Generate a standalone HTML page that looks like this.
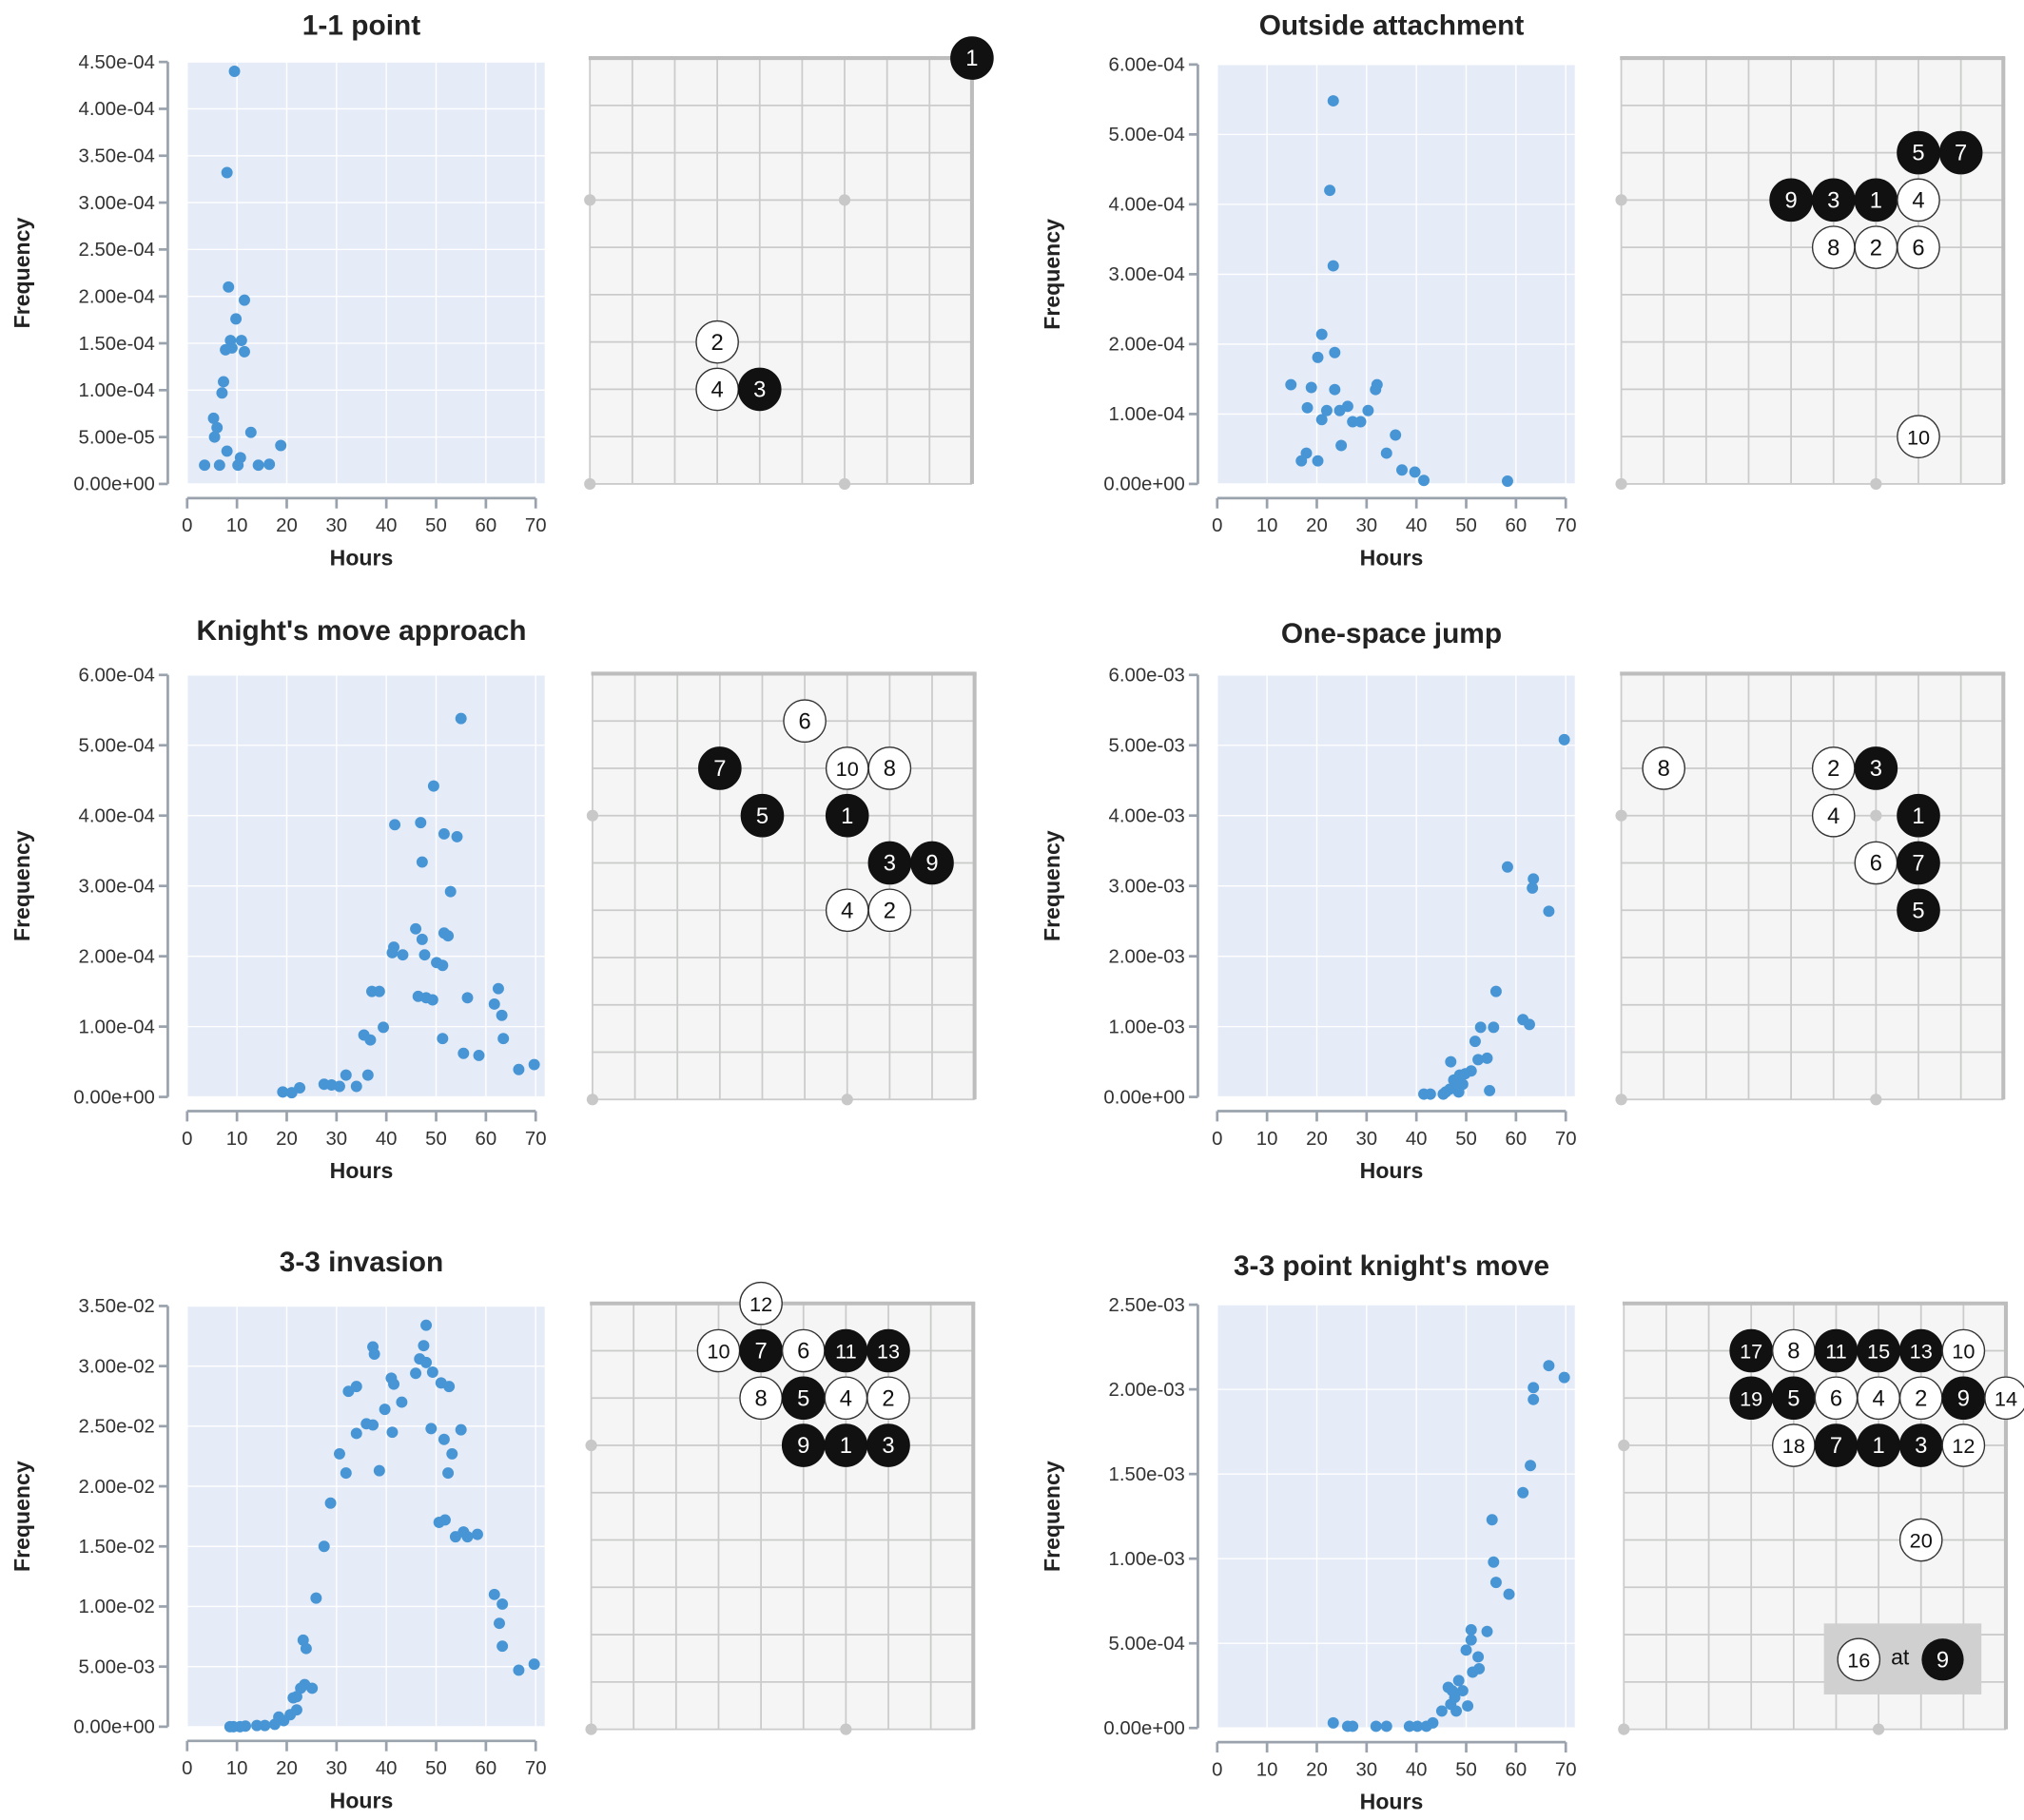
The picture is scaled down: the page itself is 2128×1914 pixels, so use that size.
<!DOCTYPE html>
<html><head><meta charset="utf-8"><style>
html,body{margin:0;padding:0;background:#fff;}
svg{display:block;font-family:"Liberation Sans",Arial,sans-serif;}
</style></head><body>
<svg id="root" width="2128" height="1914" viewBox="0 0 1568 1410.3" preserveAspectRatio="none" xmlns="http://www.w3.org/2000/svg"></svg>
<script>
const NS="http://www.w3.org/2000/svg";
const root=document.getElementById('root');

// ---- chart data ----
const hoursTicks=[0,10,20,30,40,50,60,70];
const oneOneHours=[9.5,8,8.3,11.5,9.8,8.7,10.9,7.7,9,11.5,7.3,7,5.3,6,5.5,12.8,8,18.8,10.7,3.5,6.5,10.2,14.3,16.5];
const oneOneFreq=[4.4e-4,3.32e-4,2.1e-4,1.96e-4,1.76e-4,1.53e-4,1.53e-4,1.43e-4,1.45e-4,1.41e-4,1.09e-4,0.97e-4,0.7e-4,0.6e-4,0.5e-4,0.55e-4,0.35e-4,0.41e-4,0.28e-4,0.2e-4,0.2e-4,0.2e-4,0.2e-4,0.21e-4];
const oneOneTicks=[0,5e-5,1e-4,1.5e-4,2e-4,2.5e-4,3e-4,3.5e-4,4e-4,4.5e-4];

const outsideHours=[23.3,22.6,23.3,21,23.6,20.2,14.8,18.9,23.6,32.1,31.8,18.1,22,24.6,26.2,30.3,21,27.2,28.8,35.8,24.9,34,17.9,16.9,20.2,37.1,39.7,41.5,58.3];
const outsideFreq=[5.48e-4,4.2e-4,3.12e-4,2.14e-4,1.88e-4,1.81e-4,1.42e-4,1.38e-4,1.35e-4,1.42e-4,1.35e-4,1.09e-4,1.05e-4,1.05e-4,1.11e-4,1.05e-4,0.92e-4,0.89e-4,0.89e-4,0.7e-4,0.55e-4,0.44e-4,0.44e-4,0.33e-4,0.33e-4,0.2e-4,0.17e-4,0.05e-4,0.04e-4];
const outsideTicks=[0,1e-4,2e-4,3e-4,4e-4,5e-4,6e-4];

const knightHours=[55,49.5,41.7,46.9,51.6,54.2,47.2,52.9,45.9,51.6,52.4,47.2,41.5,41.2,43.3,47.7,50.1,51.3,37.1,38.6,46.4,48,49.3,56.3,62.5,61.7,63.2,39.4,35.5,36.8,51.3,63.5,36.3,31.9,55.5,58.6,69.7,66.6,27.5,29,30.6,34,19.2,21,22.6];
const knightFreq=[5.38e-4,4.42e-4,3.87e-4,3.9e-4,3.74e-4,3.7e-4,3.34e-4,2.92e-4,2.39e-4,2.33e-4,2.29e-4,2.24e-4,2.13e-4,2.05e-4,2.02e-4,2.02e-4,1.91e-4,1.87e-4,1.5e-4,1.5e-4,1.43e-4,1.41e-4,1.38e-4,1.41e-4,1.54e-4,1.32e-4,1.16e-4,0.99e-4,0.88e-4,0.81e-4,0.83e-4,0.83e-4,0.31e-4,0.31e-4,0.62e-4,0.59e-4,0.46e-4,0.39e-4,0.18e-4,0.17e-4,0.15e-4,0.15e-4,0.07e-4,0.06e-4,0.13e-4];
const knightTicks=[0,1e-4,2e-4,3e-4,4e-4,5e-4,6e-4];

const jumpHours=[69.7,58.3,63.5,63.3,66.6,56,61.4,62.7,52.9,55.5,51.8,52.4,54.2,46.9,51,49.8,48.7,47.5,49.3,48.2,46.7,45.9,54.7,48.5,41.5,42.8,45.4];
const jumpFreq=[5.08e-3,3.27e-3,3.1e-3,2.97e-3,2.64e-3,1.5e-3,1.1e-3,1.03e-3,0.99e-3,0.99e-3,0.79e-3,0.53e-3,0.55e-3,0.5e-3,0.37e-3,0.33e-3,0.31e-3,0.24e-3,0.18e-3,0.15e-3,0.11e-3,0.07e-3,0.09e-3,0.07e-3,0.04e-3,0.04e-3,0.04e-3];
const jumpTicks=[0,1e-3,2e-3,3e-3,4e-3,5e-3,6e-3];

const invasionHours=[48,37.3,47.5,37.6,46.7,48,41,45.9,49.3,34,32.4,41.5,51,52.6,43.1,39.7,36,37.3,34,41.2,49,55,51.6,30.6,53.2,31.9,38.6,52.4,28.8,50.6,51.8,55.5,53.9,56.3,58.3,27.5,25.9,61.7,63.3,62.7,63.3,69.7,66.6,23.3,23.9,23.6,25.1,22.8,22,21.3,22,20.7,18.4,19.4,17.6,15.6,14,11.7,9.3,8.6,10.6];
const invasionFreq=[3.34e-2,3.16e-2,3.17e-2,3.1e-2,3.06e-2,3.03e-2,2.9e-2,2.94e-2,2.95e-2,2.83e-2,2.79e-2,2.85e-2,2.86e-2,2.83e-2,2.7e-2,2.64e-2,2.52e-2,2.51e-2,2.44e-2,2.45e-2,2.48e-2,2.47e-2,2.39e-2,2.27e-2,2.27e-2,2.11e-2,2.13e-2,2.11e-2,1.86e-2,1.7e-2,1.72e-2,1.62e-2,1.58e-2,1.58e-2,1.6e-2,1.5e-2,1.07e-2,1.1e-2,1.02e-2,0.86e-2,0.67e-2,0.52e-2,0.47e-2,0.72e-2,0.65e-2,0.35e-2,0.32e-2,0.32e-2,0.25e-2,0.24e-2,0.14e-2,0.1e-2,0.08e-2,0.05e-2,0.02e-2,0.01e-2,0.01e-2,0.005e-2,0,0,0];
const invasionTicks=[0,5e-3,1e-2,1.5e-2,2e-2,2.5e-2,3e-2,3.5e-2];

const kn33Hours=[66.6,69.7,63.5,63.5,62.9,61.4,55.2,55.5,56,58.6,51,54.2,51,50,52.4,52.6,51.3,48.5,46.4,47.2,49.3,47.7,46.9,50.3,45.1,48,23.3,26.2,27.2,31.9,34,38.6,40.2,42,43.3];
const kn33Freq=[2.14e-3,2.07e-3,2.01e-3,1.94e-3,1.55e-3,1.39e-3,1.23e-3,0.98e-3,0.86e-3,0.79e-3,0.58e-3,0.57e-3,0.52e-3,0.46e-3,0.42e-3,0.35e-3,0.33e-3,0.28e-3,0.24e-3,0.22e-3,0.22e-3,0.18e-3,0.14e-3,0.13e-3,0.1e-3,0.1e-3,0.03e-3,0.01e-3,0.01e-3,0.01e-3,0.01e-3,0.01e-3,0.01e-3,0.01e-3,0.03e-3];
const kn33Ticks=[0,5e-4,1e-3,1.5e-3,2e-3,2.5e-3];

function el(tag,attrs,parent,text){const e=document.createElementNS(NS,tag);for(const k in attrs)e.setAttribute(k,attrs[k]);if(text!==undefined)e.textContent=text;(parent||root).appendChild(e);return e;}
function fmt(v){if(v===0)return '0.00e+00';let e=Math.floor(Math.log10(Math.abs(v))+1e-9);let m=v/Math.pow(10,e);if(m>=9.995){m/=10;e+=1;}const s=e<0?'-':'+';const a=Math.abs(e);return m.toFixed(2)+'e'+s+(a<10?'0'+a:a);}

function chart(name,title,left,top,bottom,xs,ys,ticks,titleY){
  const g=el('g',{});
  
  
  const x0=left,x1=left+270;
  const ymax=ticks[ticks.length-1];
  const sx=v=>x0+v/70*270;
  const sy=v=>bottom-v/ymax*(bottom-top);
  const bg=el('rect',{x:x0,y:top,width:277,height:bottom-top,fill:'#e6ecf7'},g);
  
  
  hoursTicks.forEach(t=>el('line',{x1:sx(t),x2:sx(t),y1:top,y2:bottom,stroke:'#fff','stroke-width':1},g));
  ticks.forEach(t=>el('line',{x1:x0,x2:x0+277,y1:sy(t),y2:sy(t),stroke:'#fff','stroke-width':1},g));
  const ya=el('line',{x1:x0-15,x2:x0-15,y1:top,y2:bottom,stroke:'#9aa3ad','stroke-width':2},g);
  
  
  ticks.forEach(t=>{
    el('line',{x1:x0-22,x2:x0-15,y1:sy(t),y2:sy(t),stroke:'#9aa3ad','stroke-width':2},g);
    const tl=el('text',{x:x0-25,y:sy(t)+5,'text-anchor':'end','font-size':15,fill:'#333'},g,fmt(t));
    
    
  });
  const xa=el('line',{x1:x0,x2:x1,y1:bottom+11,y2:bottom+11,stroke:'#9aa3ad','stroke-width':2},g);
  
  
  hoursTicks.forEach(t=>{
    el('line',{x1:sx(t),x2:sx(t),y1:bottom+11,y2:bottom+19,stroke:'#9aa3ad','stroke-width':2},g);
    const tl=el('text',{x:sx(t),y:bottom+37,'text-anchor':'middle','font-size':15,fill:'#333'},g,String(t));
    
    
  });
  const xt=el('text',{x:(x0+x1)/2,y:bottom+63,'text-anchor':'middle','font-size':17,'font-weight':'bold',fill:'#222'},g,'Hours');
  
  
  const cy=(top+bottom)/2;
  const yt=el('text',{x:0,y:0,transform:`translate(${x0-122},${cy}) rotate(-90)`,'text-anchor':'middle','font-size':17,'font-weight':'bold',fill:'#222'},g,'Frequency');
  
  
  const tt=el('text',{x:(x0+x1)/2,y:titleY+8,'text-anchor':'middle','font-size':22,'font-weight':'bold',fill:'#222'},g,title);
  
  
  for(let i=0;i<xs.length;i++){
    const c=el('circle',{cx:sx(xs[i]),cy:sy(ys[i]),r:4.4,fill:'#4795d5'},g);
    
    
  }
}

function board(name,bx,by,stones){
  const g=el('g',{});
  
  
  const W=296,H=330,cw=W/9,ch=H/9;
  el('rect',{x:bx,y:by,width:W,height:H,fill:'#f4f5f4'},g);
  for(let i=0;i<=9;i++){
    el('line',{x1:bx+i*cw,x2:bx+i*cw,y1:by,y2:by+H,stroke:'#cbcbcb','stroke-width':1.3},g);
    el('line',{x1:bx,x2:bx+W,y1:by+i*ch,y2:by+i*ch,stroke:'#cbcbcb','stroke-width':1.3},g);
  }
  el('line',{x1:bx-1,x2:bx+W+1.5,y1:by,y2:by,stroke:'#bdbdbd','stroke-width':3},g);
  el('line',{x1:bx+W,x2:bx+W,y1:by,y2:by+H,stroke:'#bdbdbd','stroke-width':3},g);
  [[0,3],[6,3],[0,9],[6,9]].forEach(p=>el('circle',{cx:bx+p[0]*cw,cy:by+p[1]*ch,r:4.5,fill:'#c8c8c8'},g));
  stones.forEach(s=>{
    const cx=bx+s[0]*cw,cy=by+s[1]*ch,black=s[2]==='b';
    const st=el('g',{},g);
    
    
    el('circle',{cx,cy,r:16.3,fill:black?'#111':'#fff',stroke:black?'#111':'#333','stroke-width':1},st);
    el('text',{x:cx,y:cy+6,'text-anchor':'middle','font-size':s[3].length>1?16:17.5,fill:black?'#fff':'#111'},st,s[3]);
  });
  return g;
}

chart('one-one-point','1-1 point',145,48,375,oneOneHours,oneOneFreq,oneOneTicks,19);
chart('outside-attachment','Outside attachment',943,50,375,outsideHours,outsideFreq,outsideTicks,19);
chart('knights-move-approach',"Knight's move approach",145,523,850,knightHours,knightFreq,knightTicks,488);
chart('one-space-jump','One-space jump',943,523,850,jumpHours,jumpFreq,jumpTicks,490);
chart('three-three-invasion','3-3 invasion',145,1012,1338,invasionHours,invasionFreq,invasionTicks,977);
chart('three-three-knights-move',"3-3 point knight's move",943,1011,1339,kn33Hours,kn33Freq,kn33Ticks,980);

board('one-one-point',457,45,[[9,0,'b','1'],[3,6,'w','2'],[3,7,'w','4'],[4,7,'b','3']]);
board('outside-attachment',1256,45,[[7,2,'b','5'],[8,2,'b','7'],[4,3,'b','9'],[5,3,'b','3'],[6,3,'b','1'],[7,3,'w','4'],[5,4,'w','8'],[6,4,'w','2'],[7,4,'w','6'],[7,8,'w','10']]);
board('knights-move-approach',459,522,[[5,1,'w','6'],[3,2,'b','7'],[6,2,'w','10'],[7,2,'w','8'],[4,3,'b','5'],[6,3,'b','1'],[7,4,'b','3'],[8,4,'b','9'],[6,5,'w','4'],[7,5,'w','2']]);
board('one-space-jump',1256,522,[[1,2,'w','8'],[5,2,'w','2'],[6,2,'b','3'],[5,3,'w','4'],[7,3,'b','1'],[6,4,'w','6'],[7,4,'b','7'],[7,5,'b','5']]);
board('three-three-invasion',458,1010,[[4,0,'w','12'],[3,1,'w','10'],[4,1,'b','7'],[5,1,'w','6'],[6,1,'b','11'],[7,1,'b','13'],[4,2,'w','8'],[5,2,'b','5'],[6,2,'w','4'],[7,2,'w','2'],[5,3,'b','9'],[6,3,'b','1'],[7,3,'b','3']]);
const kb=board('three-three-knights-move',1258,1010,[[3,1,'b','17'],[4,1,'w','8'],[5,1,'b','11'],[6,1,'b','15'],[7,1,'b','13'],[8,1,'w','10'],[3,2,'b','19'],[4,2,'b','5'],[5,2,'w','6'],[6,2,'w','4'],[7,2,'w','2'],[8,2,'b','9'],[9,2,'w','14'],[4,3,'w','18'],[5,3,'b','7'],[6,3,'b','1'],[7,3,'b','3'],[8,3,'w','12'],[7,5,'w','20']]);
const note=el('g',{},kb);


el('rect',{x:1413,y:1258,width:122,height:55,fill:'#d0d0d0'},note);
el('circle',{cx:1440,cy:1286,r:16.3,fill:'#fff',stroke:'#333','stroke-width':1},note);
el('text',{x:1440,y:1292,'text-anchor':'middle','font-size':16,fill:'#111'},note,'16');
el('text',{x:1472,y:1290,'text-anchor':'middle','font-size':17,fill:'#111'},note,'at');
el('circle',{cx:1505,cy:1286,r:16.3,fill:'#111'},note);
el('text',{x:1505,y:1292,'text-anchor':'middle','font-size':17.5,fill:'#fff'},note,'9');
</script>
</body></html>
